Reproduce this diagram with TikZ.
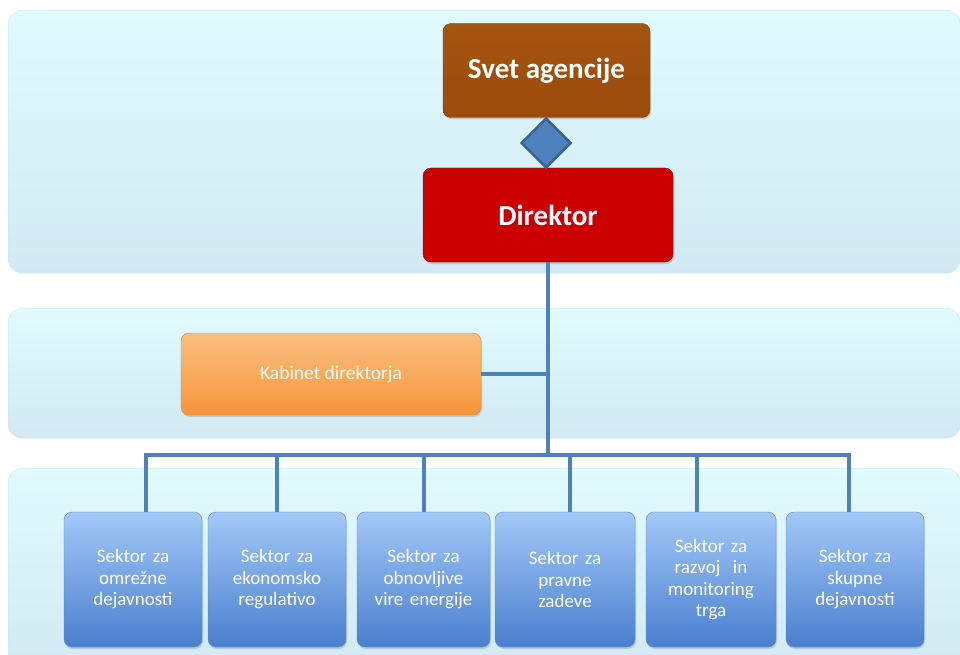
\documentclass[tikz,border=0pt]{standalone}
\usepackage{fontspec}
\setmainfont{Carlito}
\usetikzlibrary{shapes.geometric,shadows}
\definecolor{bandtop}{HTML}{E0FBFE}
\definecolor{bandbot}{HTML}{D2E9F3}
\definecolor{bandline}{HTML}{CFE6EE}
\definecolor{linkblue}{HTML}{4F81BD}
\definecolor{diamline}{HTML}{3A6496}
\definecolor{secttop}{HTML}{A2C8F7}
\definecolor{sectbot}{HTML}{4A7FCF}
\definecolor{sectline}{HTML}{5A88C8}
\definecolor{svettop}{HTML}{A5540F}
\definecolor{svetbot}{HTML}{9B4C0B}
\definecolor{kabtop}{HTML}{FBBE7E}
\definecolor{kabbot}{HTML}{F7963A}
\begin{document}
\begin{tikzpicture}[x=1pt,y=-1pt]
\tikzstyle{band}=[draw=bandline,rounded corners=14pt,top color=bandtop,bottom color=bandbot,anchor=north west,inner sep=0pt,minimum width=952pt]
\tikzstyle{box}=[rounded corners=8pt,inner sep=0pt,text=white,align=center,drop shadow={opacity=.3,shadow xshift=1pt,shadow yshift=-2pt}]
\tikzstyle{head}=[box,minimum height=94pt,font=\fontsize{29}{33}\selectfont\bfseries]
\tikzstyle{sector}=[box,draw=sectline,top color=secttop,bottom color=sectbot,minimum height=135pt,text width=130pt,font=\fontsize{19}{21.5}\selectfont]
\tikzstyle{link}=[draw=linkblue,line width=4pt]
\useasboundingbox (0,0) rectangle (960,655);
\node[band,minimum height=263pt] (band1) at (8,10) {};
\node[band,minimum height=130pt] (band2) at (8,308) {};
\node[band,minimum height=200pt] (band3) at (8,468) {};
\node[head,minimum width=207pt,top color=svettop,bottom color=svetbot,draw=svetbot!80!black] (svet) at (546.5,70.5) {Svet agencije};
\node[head,minimum width=250pt,fill=red!80!black,draw=red!60!black] (dir) at (548,215) {Direktor};
\node[diamond,draw=diamline,line width=2.5pt,fill=linkblue,inner sep=0pt,minimum width=50pt,minimum height=50pt] (link) at (546,143) {};
\node[box,minimum width=300pt,minimum height=82pt,top color=kabtop,bottom color=kabbot,draw=kabbot!90!black,font=\fontsize{19.5}{23}\selectfont] (kab) at (331,374) {Kabinet direktorja};
\node[sector,minimum width=138pt] (s1) at (133,579.5) {Sektor za\\omrežne\\dejavnosti};
\node[sector,minimum width=138pt] (s2) at (277,579.5) {Sektor za\\ekonomsko\\regulativo};
\node[sector,minimum width=133pt] (s3) at (423.5,579.5) {Sektor za\\obnovljive\\vire energije};
\node[sector,minimum width=140pt] (s4) at (565,579.5) {Sektor za\\pravne\\zadeve};
\node[sector,minimum width=128pt] (s5) at (711,579.5) {Sektor za\\razvoj ~in\\monitoring\\trga};
\node[sector,minimum width=138pt] (s6) at (855,579.5) {Sektor za\\skupne\\dejavnosti};
\foreach \i/\x in {1/146,2/277,3/424,4/570,5/697,6/849}
  \coordinate (d\i) at (\x,455);
\draw[link] (dir.south) -- (dir.south |- d1);
\draw[link] (kab.east) -- (kab.east -| dir.south);
\draw[link] (d1 |- s1.north) -- (d1) -- (d6) -- (d6 |- s6.north);
\foreach \i in {2,3,4,5}
  \draw[link] (d\i) -- (d\i |- s\i.north);
\end{tikzpicture}
\end{document}
